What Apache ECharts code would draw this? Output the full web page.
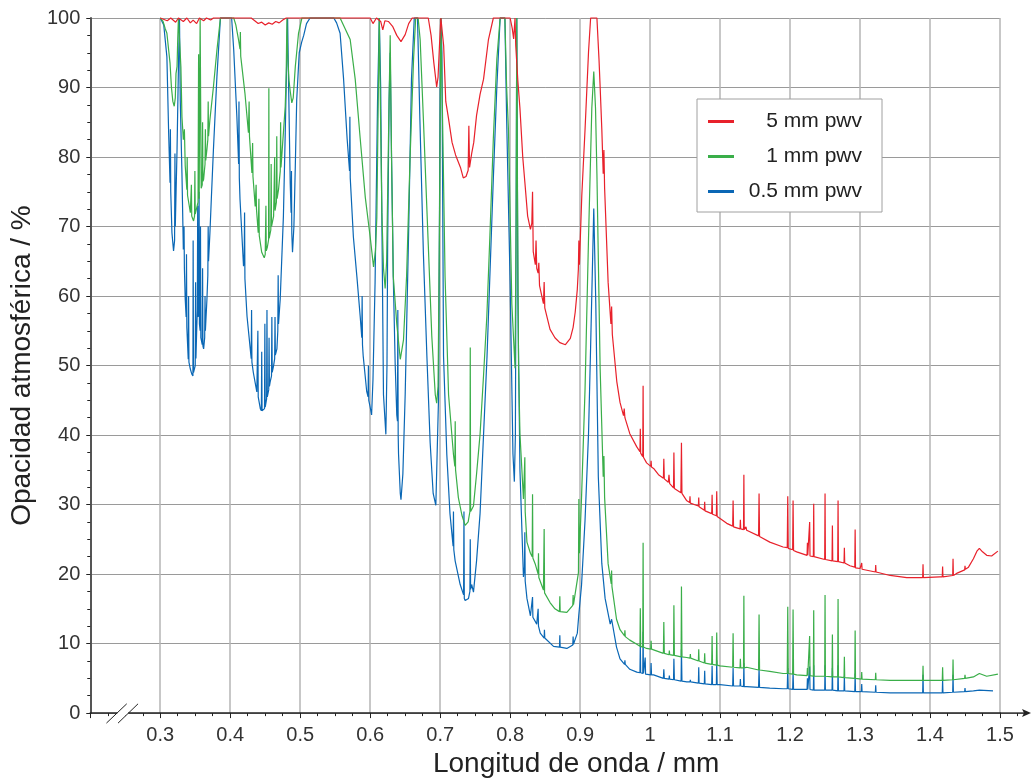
<!DOCTYPE html>
<html>
<head>
<meta charset="utf-8">
<script src="https://cdn.jsdelivr.net/npm/echarts@6/dist/echarts.min.js"></script>
<style>
html,body{margin:0;padding:0;background:#fff;}
#chart{width:1033px;height:783px;}
</style>
</head>
<body>
<div id="chart"></div>
<script>
// ---- data (wavelength in mm, opacity in %) ----
const seriesNames = ['5 mm pwv', '1 mm pwv', '0.5 mm pwv'];
const seriesColors = ['#e8212b', '#3aae49', '#0a67b5'];

const pwv5 = [
[0.300,100],[0.310,99.6],[0.315,100],[0.322,99.4],[0.326,100],[0.333,99.5],[0.338,100],[0.343,99.3],[0.347,99.7],[0.352,99.2],[0.356,100],[0.362,99.6],[0.366,100],[0.372,99.7],[0.376,100],
[0.430,100],[0.435,99.6],[0.440,99.2],[0.445,99.4],[0.450,99.0],[0.455,99.3],[0.460,99.1],[0.465,99.5],[0.470,99.3],[0.475,99.7],[0.480,100],
[0.600,100],[0.604,99.2],[0.609,100],[0.615,99.5],[0.618,98.3],[0.621,99.6],[0.626,99.5],[0.632,98.8],[0.638,97.5],[0.644,96.6],[0.650,97.6],[0.655,99.2],[0.660,100],
[0.683,100],[0.687,97.5],[0.691,93.5],[0.695,90.1],[0.697,91.5],[0.699,96],[0.701,100],[0.703,100],[0.705,96],[0.708,88],[0.712,85.5],[0.717,82.1],[0.722,80.3],[0.729,78.5],[0.733,77.0],[0.737,77.2],[0.740,78.1],[0.741,84.5],[0.742,78.5],[0.745,80.5],[0.748,82.1],[0.752,86],[0.757,89],[0.762,91.2],[0.769,96.9],[0.776,100],
[0.800,100],[0.803,98.5],[0.805,97],[0.806,97.2],[0.807,100],[0.808,96],[0.811,91],[0.814,87],[0.818,80],[0.821,76.4],[0.825,71.5],[0.829,69.6],[0.831,70.5],[0.832,75],[0.833,66.4],[0.836,64.5],[0.837,68],[0.838,64],[0.840,63.3],[0.841,64.8],[0.842,61.5],[0.8476,58.9],[0.8486,62],[0.8495,58.3],[0.857,55.2],[0.864,54.0],[0.871,53.3],[0.879,53.0],[0.886,53.9],[0.890,55.5],[0.893,57.7],[0.896,61],[0.8975,63.9],[0.8982,68],[0.899,64.5],[0.9024,74.5],[0.907,83.9],[0.912,95.1],[0.915,100],[0.924,100],[0.927,94],[0.9286,90.1],[0.931,84],[0.933,77.6],[0.934,81],[0.935,75.5],[0.940,62],[0.944,56],[0.945,58.5],[0.946,54.5],[0.9524,47.7],[0.957,44.7],[0.962,42.8],[0.963,43.8],[0.964,42.5],[0.971,40.2],[0.981,38.3],[0.9855,37.6],[0.986,40.9],[0.9865,37.4],[0.9895,36.9],[0.990,47.1],[0.9905,36.8],[0.993,36.6],[0.995,36.0],[1.0009,35.5],[1.0014,36.3],[1.002,35.4],[1.005,35.2],[1.012,34.3],[1.019,33.8],[1.0196,36.6],[1.0203,33.7],[1.026,33.2],[1.027,34.3],[1.028,33.0],[1.0335,32.4],[1.034,37.5],[1.0347,32.3],[1.044,31.7],[1.0448,38.9],[1.0455,31.6],[1.052,30.6],[1.0565,30.3],[1.057,31.2],[1.0575,30.2],[1.069,29.8],[1.0695,31.0],[1.070,29.7],[1.0775,29.2],[1.078,30.4],[1.0785,29.1],[1.088,28.7],[1.0886,31.4],[1.0892,28.6],[1.0947,28.4],[1.0952,31.9],[1.0958,28.3],[1.100,28.0],[1.1095,27.3],[1.118,26.9],[1.1186,30.6],[1.1192,26.8],[1.1285,26.5],[1.129,27.8],[1.1295,26.5],[1.1335,26.4],[1.134,34.3],[1.1345,26.4],[1.137,26.8],[1.138,26.3],[1.155,25.5],[1.1557,31.6],[1.1564,25.4],[1.171,24.6],[1.190,23.9],[1.196,23.8],[1.1967,31.2],[1.1974,23.7],[1.2037,23.5],[1.2043,30.6],[1.205,23.4],[1.2095,23.2],[1.2243,22.7],[1.2248,24.5],[1.2253,22.7],[1.2275,22.6],[1.228,27.5],[1.2285,22.6],[1.2333,22.5],[1.2338,30.1],[1.2343,22.5],[1.2495,22.1],[1.250,31.6],[1.2505,22.1],[1.260,21.9],[1.2605,27.0],[1.261,21.9],[1.2681,21.8],[1.2686,30.6],[1.2691,21.8],[1.2771,21.6],[1.2776,23.8],[1.2781,21.6],[1.2855,21.2],[1.2925,21.0],[1.293,26.4],[1.2935,20.9],[1.300,20.8],[1.3019,20.7],[1.3024,21.6],[1.3029,20.7],[1.3219,20.3],[1.3224,21.3],[1.3229,20.3],[1.343,19.8],[1.3667,19.5],[1.386,19.5],[1.3895,19.5],[1.390,21.4],[1.3905,19.5],[1.414,19.6],[1.4175,19.6],[1.418,21.1],[1.4185,19.6],[1.4324,19.8],[1.4329,22.2],[1.4334,19.8],[1.438,20.1],[1.4495,20.6],[1.450,21.2],[1.4505,20.7],[1.455,21.0],[1.462,22.2],[1.467,23.3],[1.4705,23.7],[1.475,23.2],[1.481,22.7],[1.488,22.6],[1.497,23.3]
];

const pwv1 = [
[0.300,100],[0.304,99.5],[0.307,98.5],[0.3095,97.8],[0.312,95.4],[0.314,93.5],[0.316,90],[0.318,88],[0.320,87.3],[0.3215,88.5],[0.3225,92],[0.324,93],[0.325,97],[0.326,100],[0.328,100],[0.3295,93],[0.331,85.8],[0.333,82.5],[0.3345,84],[0.3357,78.7],[0.338,75.3],[0.3385,80],[0.339,74.5],[0.343,72.0],[0.3445,76],[0.345,71.5],[0.3476,70.8],[0.349,71.5],[0.3495,78],[0.350,71.8],[0.352,72],[0.354,73.5],[0.3548,94.8],[0.3556,74],[0.357,100],[0.3585,75.5],[0.360,76],[0.3605,85],[0.361,76.5],[0.362,76.8],[0.364,79],[0.3645,84],[0.365,79.5],[0.3667,81.1],[0.368,82.5],[0.3685,88],[0.369,83],[0.371,85.4],[0.376,90.1],[0.381,95.4],[0.386,100],
[0.405,100],[0.408,99],[0.412,96.8],[0.414,95.5],[0.4145,98],[0.415,94.5],[0.4167,93],[0.421,89.2],[0.426,83.5],[0.427,88],[0.4275,83],[0.431,77.7],[0.432,82],[0.4325,77.2],[0.4357,72.9],[0.437,76],[0.4375,72.5],[0.440,69.1],[0.441,74],[0.4415,68.7],[0.445,66.3],[0.4486,65.5],[0.450,66.0],[0.451,73],[0.4515,66.5],[0.453,67],[0.4548,68.1],[0.4552,89.9],[0.4556,68.3],[0.458,69.5],[0.4585,79],[0.459,70],[0.462,71.5],[0.4635,80],[0.464,72.3],[0.466,73.5],[0.4665,83],[0.467,74],[0.469,75.3],[0.4715,78],[0.472,85],[0.4725,78.5],[0.474,80.6],[0.4786,87.3],[0.480,92],[0.481,100],[0.482,95],[0.484,91],[0.4857,89.5],[0.488,87.8],[0.490,88.5],[0.493,93],[0.4976,97.8],[0.5024,100],
[0.557,100],[0.5714,96.9],[0.5786,91.2],[0.5857,82.7],[0.593,74.2],[0.600,68.5],[0.6048,64.2],[0.6075,66.5],[0.6095,71.3],[0.6115,88],[0.613,100],[0.6145,88],[0.6167,72],[0.619,64],[0.6214,61.1],[0.6235,65],[0.6265,85],[0.6286,97.5],[0.6305,80],[0.633,62.8],[0.638,56.0],[0.643,50.9],[0.6476,53.7],[0.652,62.8],[0.657,79.9],[0.662,94.1],[0.665,100],[0.6685,100],[0.6714,96.9],[0.676,85.5],[0.683,67.4],[0.688,54.3],[0.693,45.8],[0.695,44.6],[0.697,47],[0.699,70],[0.701,100],[0.7025,100],[0.704,82],[0.707,62.8],[0.712,45.8],[0.719,37.2],[0.721,35.5],[0.7215,42],[0.722,35],[0.726,31.0],[0.731,28.5],[0.7357,27.0],[0.740,27.5],[0.7425,29],[0.743,52.6],[0.7435,29],[0.7476,29.8],[0.752,34.4],[0.757,40.1],[0.762,48.6],[0.7667,57.1],[0.771,68.5],[0.776,82.7],[0.781,94.1],[0.7857,100],[0.7925,100],[0.795,90],[0.7976,83.9],[0.8024,58.9],[0.807,49.6],[0.8085,70],[0.8095,100],[0.8105,75],[0.812,50],[0.814,40.2],[0.819,30.8],[0.8205,31],[0.821,36.8],[0.8215,29],[0.824,24.6],[0.829,23.0],[0.8315,22.5],[0.832,31.5],[0.8325,22.3],[0.8357,21.5],[0.840,20],[0.8405,23],[0.841,19.5],[0.8476,17.7],[0.848,17.5],[0.8486,26.5],[0.8492,17.3],[0.857,15.9],[0.864,15.0],[0.8705,14.6],[0.871,16.8],[0.8715,14.6],[0.881,14.5],[0.8895,15.5],[0.890,17],[0.8905,15.6],[0.8976,20.2],[0.8982,30.8],[0.899,23],[0.902,31],[0.907,46.5],[0.912,68.3],[0.9167,87],[0.9195,92.3],[0.922,87],[0.924,77.6],[0.9286,49.6],[0.933,34],[0.934,37],[0.935,31],[0.940,21.5],[0.9445,18.6],[0.945,20.5],[0.9455,18.2],[0.952,13.5],[0.957,12.0],[0.9635,11.1],[0.964,11.9],[0.9645,11.0],[0.971,10.5],[0.981,9.9],[0.9855,9.6],[0.986,15.1],[0.9865,9.6],[0.9895,9.5],[0.990,24.5],[0.9905,9.5],[0.993,9.4],[0.995,9.3],[1.0009,9.2],[1.0014,10.4],[1.002,9.2],[1.005,9.1],[1.019,8.6],[1.0196,13.1],[1.0203,8.6],[1.027,8.4],[1.0275,9.0],[1.028,8.4],[1.0335,8.3],[1.034,15.5],[1.0347,8.3],[1.0443,8.1],[1.0448,18.2],[1.0455,8.1],[1.0524,8.0],[1.057,7.9],[1.0575,8.5],[1.058,7.9],[1.069,7.5],[1.0695,9.2],[1.070,7.5],[1.0775,7.2],[1.078,8.6],[1.0785,7.2],[1.088,7.0],[1.0886,11.1],[1.0892,7.0],[1.0947,6.9],[1.0952,11.6],[1.0958,6.9],[1.100,6.8],[1.118,6.6],[1.1186,11.5],[1.1192,6.6],[1.1285,6.5],[1.129,7.8],[1.1295,6.5],[1.1335,6.5],[1.134,16.9],[1.1345,6.5],[1.138,6.6],[1.1385,6.4],[1.155,6.2],[1.1557,14.2],[1.1564,6.2],[1.171,6.0],[1.190,5.7],[1.196,5.7],[1.1967,15.3],[1.1974,5.7],[1.2037,5.6],[1.2043,14.9],[1.205,5.6],[1.2095,5.5],[1.2243,5.4],[1.2248,6.5],[1.2253,5.4],[1.2275,5.4],[1.228,11.1],[1.2285,5.4],[1.2333,5.3],[1.2338,14.8],[1.2343,5.3],[1.2495,5.3],[1.250,17.0],[1.2505,5.3],[1.260,5.2],[1.2605,11.3],[1.261,5.2],[1.2681,5.2],[1.2686,16.4],[1.2691,5.2],[1.2771,5.1],[1.2776,8.1],[1.2781,5.1],[1.2925,5.0],[1.293,11.9],[1.2935,5.0],[1.3019,4.9],[1.3024,5.9],[1.3029,4.9],[1.3219,4.8],[1.3224,5.8],[1.3229,4.8],[1.343,4.7],[1.3667,4.7],[1.3895,4.7],[1.390,6.8],[1.3905,4.7],[1.4175,4.7],[1.418,6.6],[1.4185,4.7],[1.4324,4.8],[1.4329,7.7],[1.4334,4.8],[1.4495,5.0],[1.450,5.5],[1.4505,5.0],[1.462,5.2],[1.4705,5.7],[1.481,5.3],[1.497,5.6]
];

const pwv05 = [
[0.300,100],[0.305,99],[0.3095,94.4],[0.312,83.5],[0.314,76.3],[0.3145,84],[0.315,75],[0.3167,69.1],[0.319,66.5],[0.3205,68],[0.321,80.5],[0.3215,70],[0.324,81.1],[0.326,93],[0.3275,100],
[0.3286,88.2],[0.331,77.7],[0.333,66.7],[0.334,70],[0.3345,64],[0.3357,59.5],[0.337,57],[0.3375,66],[0.338,55.5],[0.340,50.9],[0.3405,60],[0.341,50.5],[0.343,49.5],[0.345,48.8],[0.3467,48.5],[0.347,68],[0.3475,49],[0.349,49.2],[0.350,50.0],[0.3505,62],[0.351,51],[0.352,54.8],[0.353,58],[0.3535,73],[0.354,57],[0.355,57.5],[0.3555,75],[0.356,56],[0.357,55],[0.3575,70],[0.358,54],[0.360,53],[0.3605,64],[0.361,52.8],[0.362,52.4],[0.3635,54],[0.364,60],[0.3645,55],[0.3667,59.5],[0.368,63],[0.3685,70],[0.369,65],[0.371,69.1],[0.373,74],[0.376,81.1],[0.381,91.6],[0.386,100],
[0.402,100],[0.405,95.4],[0.4095,85.8],[0.412,79],[0.4125,88],[0.413,77],[0.414,73.9],[0.419,64.3],[0.420,66],[0.4205,72],[0.421,62.5],[0.424,57.1],[0.4286,52.4],[0.430,51],[0.4305,58],[0.431,50.5],[0.433,49.0],[0.438,46.2],[0.439,46],[0.4395,55],[0.440,45.5],[0.443,43.8],[0.4445,43.5],[0.445,52],[0.4455,43.5],[0.4476,43.3],[0.449,43.8],[0.4495,56],[0.450,44],[0.452,45.2],[0.4525,58],[0.453,45.5],[0.455,46.5],[0.4555,54],[0.456,47],[0.457,47.6],[0.459,48.5],[0.4595,57],[0.460,49],[0.462,50.0],[0.4635,51],[0.464,57],[0.4645,51.5],[0.4667,52.4],[0.468,55],[0.4685,63],[0.469,56],[0.4714,59.5],[0.476,71.5],[0.4786,83.4],[0.481,95.4],[0.482,100],[0.483,93],[0.4857,76.3],[0.487,72],[0.4875,78],[0.488,69],[0.489,66.3],[0.491,70],[0.493,78.7],[0.495,88.2],[0.4986,95],[0.502,96.5],[0.505,97.5],[0.509,99.2],[0.514,100],
[0.548,100],[0.552,99.3],[0.557,97.8],[0.562,91.2],[0.567,82.7],[0.5705,78],[0.571,85.8],[0.5715,77],[0.576,68.5],[0.581,62.8],[0.5857,57.1],[0.588,54],[0.5885,60],[0.589,53],[0.590,51.4],[0.595,46.3],[0.597,45.5],[0.5975,50],[0.598,45],[0.600,44.0],[0.602,42.9],[0.604,48],[0.607,62],[0.6105,88],[0.613,100],[0.615,90],[0.617,68],[0.619,45.8],[0.6224,40.1],[0.624,50],[0.625,68],[0.627,88],[0.6286,95],[0.6305,80],[0.632,70],[0.633,62.8],[0.6357,50.3],[0.638,42.9],[0.639,42],[0.6395,58],[0.640,40],[0.6405,37.3],[0.643,31.6],[0.644,30.7],[0.6467,34.4],[0.650,45.8],[0.6548,68.5],[0.659,91.2],[0.663,100],[0.6676,100],[0.671,85.5],[0.676,66.2],[0.681,51.4],[0.6857,38.9],[0.690,31.6],[0.6938,29.9],[0.6976,45],[0.700,90],[0.701,100],[0.7025,95],[0.7048,51.4],[0.7095,37.2],[0.714,28.7],[0.7185,24],[0.719,29],[0.7195,23.5],[0.7214,21.9],[0.7286,18.5],[0.7335,17],[0.734,29],[0.7345,16.5],[0.7357,16.2],[0.7405,16.5],[0.7425,17.5],[0.743,25],[0.7435,17.8],[0.745,18.5],[0.7476,17.4],[0.752,21.9],[0.757,28.7],[0.762,40.1],[0.767,51.4],[0.771,62.8],[0.776,77.0],[0.781,90.1],[0.7857,100],[0.7925,100],[0.795,85.5],[0.800,61.7],[0.804,37.3],[0.806,33.3],[0.8075,40],[0.8095,100],[0.811,60],[0.814,35],[0.819,19.6],[0.8205,21],[0.821,26],[0.8215,19],[0.824,16.5],[0.829,14.0],[0.8315,14],[0.832,16.7],[0.8325,13.8],[0.838,12.8],[0.8395,13],[0.840,15],[0.8405,12.5],[0.843,11.5],[0.8486,10.8],[0.849,12],[0.8495,10.8],[0.852,10.6],[0.862,9.6],[0.8705,9.5],[0.871,11.2],[0.8715,9.5],[0.881,9.3],[0.8895,9.8],[0.890,11],[0.8905,9.9],[0.896,11.5],[0.898,14],[0.902,18.4],[0.907,27.7],[0.912,40.2],[0.915,52.7],[0.9195,72.6],[0.9224,58.9],[0.926,34],[0.931,21.5],[0.9357,16.5],[0.943,12.8],[0.945,13.5],[0.952,9.5],[0.957,7.8],[0.9635,7.0],[0.964,7.6],[0.9645,7.0],[0.971,6.3],[0.981,5.9],[0.9855,5.8],[0.986,9.9],[0.9865,5.8],[0.9895,5.7],[0.990,11.7],[0.9905,5.7],[0.9925,5.7],[0.993,8.0],[0.9935,5.6],[1.0009,5.5],[1.0014,7.2],[1.002,5.5],[1.005,5.5],[1.019,5.0],[1.0196,6.3],[1.0203,5.0],[1.027,4.9],[1.0275,5.4],[1.028,4.9],[1.0335,4.8],[1.034,7.8],[1.0347,4.8],[1.0443,4.6],[1.0448,9.2],[1.0455,4.6],[1.0524,4.5],[1.057,4.5],[1.0575,4.8],[1.058,4.5],[1.069,4.3],[1.0695,6.6],[1.070,4.3],[1.0775,4.2],[1.078,6.1],[1.0785,4.2],[1.088,4.1],[1.0886,6.8],[1.0892,4.1],[1.0947,4.1],[1.0952,7.6],[1.0958,4.1],[1.100,4.1],[1.118,3.9],[1.1186,6.5],[1.1192,3.9],[1.1285,3.9],[1.129,4.9],[1.1295,3.9],[1.1335,3.8],[1.134,7.2],[1.1345,3.8],[1.138,3.8],[1.155,3.7],[1.1557,6.5],[1.1564,3.7],[1.171,3.6],[1.190,3.5],[1.196,3.5],[1.1967,6.5],[1.1974,3.5],[1.2037,3.4],[1.2043,6.0],[1.205,3.4],[1.2095,3.4],[1.2243,3.4],[1.2248,5.0],[1.2253,3.4],[1.2275,3.4],[1.228,6.7],[1.2285,3.4],[1.2333,3.3],[1.2338,6.9],[1.2343,3.3],[1.2495,3.3],[1.250,6.9],[1.2505,3.3],[1.260,3.3],[1.2605,6.5],[1.261,3.3],[1.2681,3.2],[1.2686,6.9],[1.2691,3.2],[1.2771,3.2],[1.2776,5.3],[1.2781,3.2],[1.2925,3.1],[1.293,5.7],[1.2935,3.1],[1.3019,3.1],[1.3024,4.2],[1.3029,3.1],[1.3219,3.0],[1.3224,4.0],[1.3229,3.0],[1.343,2.9],[1.3667,2.9],[1.3895,2.9],[1.390,5.5],[1.3905,2.9],[1.4175,2.9],[1.418,4.8],[1.4185,2.9],[1.4324,3.0],[1.4329,5.5],[1.4334,3.0],[1.4495,3.1],[1.450,3.6],[1.4505,3.1],[1.462,3.2],[1.4705,3.3],[1.490,3.2]
];

const xRange = [0.2, 1.5, 0.1];   // min, max, interval
const yRange = [0, 100, 10];
const xTitle = 'Longitud de onda / mm';
const yTitle = 'Opacidad atmosférica / %';

// ---- chart ----
const FONT = '"Liberation Sans", Arial, Helvetica, sans-serif';
const chart = echarts.init(document.getElementById('chart'), null, {renderer: 'canvas'});

const dataSets = [pwv5, pwv1, pwv05];
const series = [2, 1, 0].map(i => ({
  name: seriesNames[i],
  type: 'line',
  data: dataSets[i],
  showSymbol: false,
  symbol: 'none',
  clip: false,
  z: 3 - i + 2,
  lineStyle: {color: seriesColors[i], width: 1.2},
  itemStyle: {color: seriesColors[i]},
  emphasis: {disabled: true}
}));

const option = {
  animation: false,
  backgroundColor: '#fff',
  textStyle: {fontFamily: FONT},
  grid: {left: 90, right: 33, top: 18, bottom: 68, containLabel: false},
  legend: {
    data: seriesNames,
    orient: 'vertical',
    left: 697, top: 99,
    backgroundColor: '#fff',
    borderColor: '#a0a0a0', borderWidth: 1, borderRadius: 0,
    padding: [12, 20, 10, 11],
    itemGap: 14,
    itemWidth: 26, itemHeight: 3,
    icon: 'rect',
    selectedMode: false,
    formatter: n => '{a|' + n + '}',
    textStyle: {
      fontFamily: FONT, fontSize: 21, color: '#222',
      rich: {a: {width: 123, align: 'right', fontSize: 21, lineHeight: 22, color: '#222', fontFamily: FONT}}
    }
  },
  xAxis: {
    type: 'value',
    min: xRange[0], max: xRange[1], interval: xRange[2],
    name: xTitle, nameLocation: 'middle', nameGap: 33,
    nameTextStyle: {fontSize: 28, color: '#222', fontFamily: FONT, padding: [0, 0, 0, 62]},
    axisLine: {show: true, onZero: false, lineStyle: {color: '#222', width: 1.5}},
    axisTick: {show: true, length: 5, lineStyle: {color: '#222', width: 1}},
    minorTick: {show: true, splitNumber: 4, length: 3, lineStyle: {color: '#222', width: 1}},
    axisLabel: {
      fontSize: 20, color: '#333', margin: 12, fontFamily: FONT,
      formatter: v => (v < 0.25 ? '' : String(Math.round(v * 10) / 10))
    },
    splitLine: {show: true, lineStyle: {color: '#b4b4b4', width: 1.5}},
    minorSplitLine: {show: false}
  },
  yAxis: {
    type: 'value',
    min: yRange[0], max: yRange[1], interval: yRange[2],
    name: yTitle, nameLocation: 'middle', nameGap: 54, nameRotate: 90,
    nameTextStyle: {fontSize: 28, color: '#222', fontFamily: FONT},
    axisLine: {show: true, lineStyle: {color: '#555', width: 2}},
    axisTick: {show: true, length: 4, lineStyle: {color: '#222', width: 1}},
    minorTick: {show: true, splitNumber: 4, length: 3, lineStyle: {color: '#222', width: 1}},
    axisLabel: {fontSize: 20, color: '#333', margin: 10, fontFamily: FONT},
    splitLine: {show: true, lineStyle: {color: '#9a9a9a', width: 1}},
    minorSplitLine: {show: false}
  },
  series: series
};
chart.setOption(option);

// decorations: axis break marks and arrow extension of the x axis
const o = chart.convertToPixel({gridIndex: 0}, [0.2457, 0]);
const e = chart.convertToPixel({gridIndex: 0}, [1.5, 0]);
const tk = chart.convertToPixel({gridIndex: 0}, [1.525, 0]);
chart.setOption({
  graphic: [
    {type: 'rect', shape: {x: o[0] - 5, y: o[1] - 2.5, width: 11, height: 5}, style: {fill: '#fff'}, z: 100},
    {type: 'line', shape: {x1: o[0] - 15.8, y1: o[1] + 10, x2: o[0] + 4.5, y2: o[1] - 9.3}, style: {stroke: '#222', lineWidth: 1}, z: 101},
    {type: 'line', shape: {x1: o[0] - 4.2, y1: o[1] + 10, x2: o[0] + 15.8, y2: o[1] - 9.3}, style: {stroke: '#222', lineWidth: 1}, z: 101},
    {type: 'line', shape: {x1: e[0], y1: e[1], x2: e[0] + 27, y2: e[1]}, style: {stroke: '#222', lineWidth: 1.5}, z: 101},
    {type: 'line', shape: {x1: tk[0], y1: tk[1], x2: tk[0], y2: tk[1] + 3}, style: {stroke: '#222', lineWidth: 1}, z: 101},
    {type: 'polygon', shape: {points: [[e[0] + 31, e[1]], [e[0] + 22, e[1] - 4], [e[0] + 24, e[1]], [e[0] + 22, e[1] + 4]]}, style: {fill: '#222'}, z: 101}
  ]
});
</script>
</body>
</html>
